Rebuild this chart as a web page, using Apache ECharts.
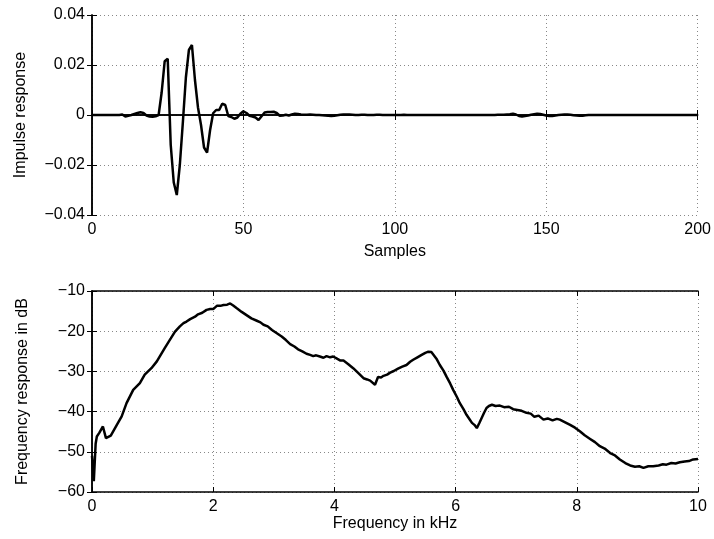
<!DOCTYPE html>
<html>
<head>
<meta charset="utf-8">
<script src="https://cdn.jsdelivr.net/npm/echarts@6/dist/echarts.min.js"></script>
<style>
html, body { margin: 0; padding: 0; background: #fff; }
#chart { width: 714px; height: 539px; }
</style>
</head>
<body>
<div id="chart"></div>
<script>
// impulse response, one value per sample (0..200)
var impulse = [
	0, 0, 0, 0, 0, 0, 0, 0, 0, 0,
	0.0002, -0.0006, -0.0003, 0, 0.0004, 0.0008, 0.0011, 0.0008, -0.0002, -0.0006,
	-0.0007, -0.0005, 0, 0.009, 0.0215, 0.0225, -0.012, -0.027, -0.032, -0.02,
	-0.003, 0.015, 0.026, 0.028, 0.014, 0.003, -0.004, -0.013, -0.015, -0.006,
	0.0007, 0.002, 0.002, 0.0045, 0.004, -0.0004, -0.0008, -0.0015, -0.001, 0.0005,
	0.0015, 0.0008, -0.0003, -0.0006, -0.001, -0.002, -0.0005, 0.001, 0.0012, 0.0012,
	0.0013, 0.0008, -0.0003, -0.0002, 0.0001, -0.0002, 0.0002, 0.0005, 0.0004, 0.0002,
	0.0001, 0.0001, 0.0002, 0.0001, 0, 0, -0.0001, -0.0002, -0.0003, -0.0004,
	-0.0003, -0.0001, 0.0001, 0.0002, 0.0002, 0.0002, 0.0001, 0, 0, 0.0001,
	0.0001, 0, 0, 0, 0.0001, 0.0001, 0, 0, 0, 0,
	0, 0, 0, 0.0001, 0, 0, 0, 0, 0, 0,
	0, 0, 0, 0, 0, 0, 0, 0, 0, 0,
	0, 0, 0, 0, 0, 0, 0, 0, 0, 0,
	0, 0, 0, 0, 0.0001, 0.0001, 0.0001, 0.0002, 0.0003, 0.0005,
	0.0002, -0.0004, -0.0006, -0.0004, -0.0002, 0.0001, 0.0003, 0.0005, 0.0004, 0.0001,
	-0.0002, -0.0004, -0.0004, -0.0002, 0, 0.0001, 0.0002, 0.0002, 0.0001, -0.0001,
	-0.0002, -0.0003, -0.0003, -0.0001, 0, 0, 0, 0, 0, 0,
	0, 0, 0, 0, 0, 0, 0, 0, 0, 0,
	0, 0, 0, 0, 0, 0, 0, 0, 0, 0,
	0, 0, 0, 0, 0, 0, 0, 0, 0, 0,
	0
];

// frequency response
var freqKHz = [
	0.00, 0.03, 0.06, 0.08, 0.12, 0.18, 0.23, 0.31, 0.41, 0.49,
	0.57, 0.68, 0.79, 0.87, 0.98, 1.07, 1.20, 1.30, 1.37, 1.45,
	1.51, 1.56, 1.62, 1.70, 1.75, 1.82, 1.89, 1.95, 2.00, 2.06,
	2.12, 2.17, 2.23, 2.28, 2.33, 2.39, 2.47, 2.55, 2.63, 2.72,
	2.78, 2.83, 2.90, 2.97, 3.05, 3.13, 3.20, 3.27, 3.34, 3.40,
	3.47, 3.54, 3.60, 3.65, 3.70, 3.76, 3.82, 3.87, 3.93, 3.98,
	4.05, 4.10, 4.15, 4.23, 4.31, 4.40, 4.48, 4.54, 4.59, 4.67,
	4.72, 4.77, 4.81, 4.87, 4.92, 4.98, 5.05, 5.12, 5.19, 5.25,
	5.30, 5.37, 5.44, 5.50, 5.55, 5.60, 5.63, 5.69, 5.74, 5.80,
	5.85, 5.91, 5.96, 6.02, 6.07, 6.13, 6.18, 6.23, 6.27, 6.31,
	6.35, 6.39, 6.43, 6.47, 6.51, 6.55, 6.60, 6.66, 6.73, 6.80,
	6.88, 6.95, 7.02, 7.09, 7.17, 7.24, 7.30, 7.37, 7.45, 7.52,
	7.60, 7.67, 7.72, 7.80, 7.89, 7.97, 8.05, 8.13, 8.22, 8.30,
	8.38, 8.46, 8.55, 8.63, 8.71, 8.80, 8.88, 8.96, 9.03, 9.10,
	9.18, 9.26, 9.35, 9.42, 9.48, 9.56, 9.63, 9.70, 9.78, 9.85,
	9.92, 10.00
];
var respDb = [
	-51, -57.3, -48, -46.2, -45.3, -43.7, -46.6, -46.0, -43.3, -41.2,
	-37.9, -34.6, -32.9, -30.8, -29.2, -27.5, -24.2, -21.8, -20.1, -18.8,
	-18.0, -17.6, -17.0, -16.4, -15.8, -15.4, -14.7, -14.5, -14.5, -13.7,
	-13.7, -13.5, -13.4, -13.1, -13.6, -14.3, -15.2, -16.0, -16.8, -17.4,
	-17.8, -18.4, -18.8, -19.7, -20.5, -21.3, -22.2, -23.2, -23.8, -24.5,
	-25.0, -25.6, -25.9, -26.2, -26.0, -26.3, -26.6, -26.2, -26.5, -26.3,
	-26.9, -27.3, -27.3, -28.2, -29.2, -30.5, -31.7, -32.0, -32.3, -33.3,
	-31.4, -31.5, -31.1, -30.8, -30.3, -29.9, -29.3, -28.8, -28.4, -27.6,
	-27.1, -26.5, -25.9, -25.4, -25.1, -25.2, -25.5, -27.0, -28.4, -29.8,
	-31.3, -33.0, -34.6, -36.3, -37.9, -39.4, -40.8, -41.9, -42.8, -43.3,
	-44.1, -42.9, -41.6, -40.3, -39.1, -38.6, -38.3, -38.6, -38.5, -38.9,
	-38.8, -39.4, -39.6, -39.8, -40.3, -40.5, -41.3, -41.0, -42.0, -41.7,
	-42.2, -41.8, -42.0, -42.6, -43.3, -44.0, -44.9, -45.9, -46.8, -47.6,
	-48.6, -49.2, -50.3, -50.9, -51.9, -52.8, -53.4, -53.7, -53.6, -54.0,
	-53.6, -53.6, -53.4, -53.1, -53.2, -52.8, -52.9, -52.6, -52.4, -52.3,
	-51.9, -51.8
];

var FONT = 'Liberation Sans';

function minusFmt(v) {
	return String(v).replace('-', '\u2212');
}

function mainAxis(pos, gridIndex, min, max, interval, name, nameGap, showGrid) {
	return {
		type: 'value',
		gridIndex: gridIndex,
		position: pos,
		min: min,
		max: max,
		interval: interval,
		name: name,
		nameLocation: 'middle',
		nameGap: nameGap,
		nameTextStyle: { color: '#000', fontFamily: FONT, fontSize: 16 },
		axisLine: { show: true, lineStyle: { color: '#000', width: 1.5 } },
		axisTick: { show: true, inside: true, length: 5, lineStyle: { color: '#000', width: 1 } },
		axisLabel: { show: true, color: '#000', fontFamily: FONT, fontSize: 16, margin: 7, formatter: minusFmt },
		splitLine: { show: showGrid, lineStyle: { color: '#888', width: 1, type: [1, 3] } }
	};
}

function boxAxis(pos, gridIndex, min, max, interval) {
	return {
		type: 'value',
		gridIndex: gridIndex,
		position: pos,
		min: min,
		max: max,
		interval: interval,
		axisLine: { show: true, lineStyle: { color: '#000', width: 1.5 } },
		axisTick: { show: true, inside: true, length: 5, lineStyle: { color: '#000', width: 1 } },
		axisLabel: { show: false },
		splitLine: { show: false }
	};
}

var impulseData = impulse.map(function(v, i) { return [i, v]; });
var respData = freqKHz.map(function(f, i) { return [f, respDb[i]]; });

var myChart = echarts.init(document.getElementById('chart'), null, { renderer: 'canvas' });
var option = {
	animation: false,
	backgroundColor: '#fff',
	grid: [
		{ left: 92, top: 15, width: 606, height: 200 },
		{ left: 92, top: 291, width: 606, height: 201 }
	],
	xAxis: [
		mainAxis('bottom', 0, 0, 200, 50, 'Samples', 29, true),
		boxAxis('top', 0, 0, 200, 50),
		mainAxis('bottom', 1, 0, 10, 2, 'Frequency in kHz', 22, true),
		boxAxis('top', 1, 0, 10, 2)
	],
	yAxis: [
		mainAxis('left', 0, -0.04, 0.04, 0.02, 'Impulse response', 63, true),
		boxAxis('right', 0, -0.04, 0.04, 0.02),
		mainAxis('left', 1, -60, -10, 10, 'Frequency response in dB', 61, true),
		boxAxis('right', 1, -60, -10, 10)
	],
	series: [
		{
			type: 'line',
			xAxisIndex: 0,
			yAxisIndex: 0,
			data: impulseData,
			showSymbol: false,
			lineStyle: { color: '#000', width: 2.5 }
		},
		{
			type: 'line',
			xAxisIndex: 2,
			yAxisIndex: 2,
			data: respData,
			showSymbol: false,
			lineStyle: { color: '#000', width: 2.5 }
		}
	]
};
myChart.setOption(option);
</script>
</body>
</html>
